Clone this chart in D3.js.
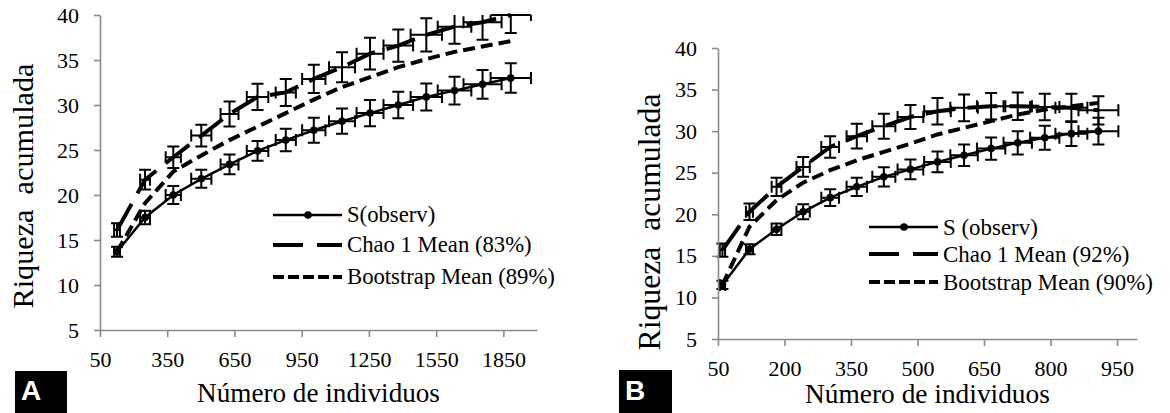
<!DOCTYPE html>
<html>
<head>
<meta charset="utf-8">
<script src="https://cdn.jsdelivr.net/npm/d3@7"></script>
</head>
<body style="margin:0">
<div id="fig"></div>
<script>
// ---- data ----
const yTicks = [5, 10, 15, 20, 25, 30, 35, 40];

// panel A
const xTicksA = [50, 350, 650, 950, 1250, 1550, 1850];
const xA = [126, 251, 377, 502, 628, 753, 879, 1004, 1130, 1255, 1381, 1506, 1632, 1757, 1883];
const xErrA = [13, 22, 34, 45, 40, 48, 45, 52, 58, 60, 66, 70, 75, 85, 90];
const sObsA = [13.7, 17.5, 20.0, 21.8, 23.4, 24.9, 26.1, 27.2, 28.2, 29.1, 30.0, 30.9, 31.6, 32.3, 33.0];
const sErrA = [0.55, 0.75, 1.0, 1.0, 1.1, 1.1, 1.25, 1.39, 1.4, 1.45, 1.48, 1.5, 1.55, 1.6, 1.63];
const chaoA = [16.1, 21.7, 24.2, 26.6, 29.0, 30.9, 31.4, 32.9, 34.2, 35.7, 36.6, 37.8, 38.7, 39.2, 40.0];
const chaoErrA = [0.75, 1.1, 1.2, 1.2, 1.4, 1.45, 1.5, 1.57, 1.67, 1.76, 1.8, 1.85, 1.9, 1.95, 2.0];
const bootA = [13.7, 19.1, 22.6, 24.4, 26.1, 27.6, 29.1, 30.6, 32.0, 33.1, 34.2, 35.1, 35.9, 36.5, 37.1];
const legendA = ["S(observ)", "Chao 1 Mean (83%)", "Bootstrap Mean (89%)"];

// panel B
const xTicksB = [50, 200, 350, 500, 650, 800, 950];
const xB = [60, 121, 182, 242, 303, 363, 424, 484, 545, 605, 666, 726, 787, 847, 908];
const xErrB = [6, 8, 11, 15, 20, 23, 26, 29, 30, 31, 32, 32, 33, 36, 45];
const sObsB = [11.5, 15.8, 18.2, 20.3, 22.0, 23.3, 24.5, 25.4, 26.3, 27.1, 27.9, 28.6, 29.2, 29.7, 30.0];
const sErrB = [0.5, 0.6, 0.7, 0.9, 1.0, 1.1, 1.15, 1.2, 1.25, 1.3, 1.35, 1.4, 1.45, 1.5, 1.6];
const chaoB = [15.7, 20.3, 23.3, 25.7, 28.1, 29.4, 30.6, 31.7, 32.4, 32.8, 33.0, 33.0, 32.9, 32.8, 32.5];
const chaoErrB = [0.8, 1.0, 1.1, 1.2, 1.3, 1.5, 1.5, 1.45, 1.6, 1.6, 1.6, 1.65, 1.6, 1.7, 1.7];
const bootB = [11.5, 18.5, 21.7, 23.8, 25.3, 26.5, 27.5, 28.5, 29.6, 30.4, 31.2, 32.0, 32.6, 33.0, 33.4];
const legendB = ["S (observ)", "Chao 1 Mean (92%)", "Bootstrap Mean (90%)"];

const W = 1170, H = 413;
const SERIF = '"Times New Roman"';
const SANS = '"Liberation Sans"';

const svg = d3.select("#fig")
  .append("svg")
  .attr("width", W)
  .attr("height", H);

svg.append("rect").attr("width", W).attr("height", H).attr("fill", "#fff");

// scale a text's font size so it spans the width it has in the picture
function fitWidth(sel, size, target) {
  sel.style("font-size", size + "px");
  const w = sel.node().getComputedTextLength();
  if (w > 0) sel.style("font-size", (size * target / w).toFixed(2) + "px");
  return sel;
}

function drawPanel(p) {
  const x = d3.scaleLinear().domain(p.xDomain).range([p.left, p.right]);
  const y = d3.scaleLinear().domain([5, 40]).range([p.bottom, p.top]);

  const line = d3.line().x((d) => x(d[0])).y((d) => y(d[1]));
  const pts = (ys) => p.xs.map((v, i) => [v, ys[i]]);
  const plot = svg.append("g");

  // error bars (vertical + horizontal) for S and Chao, cut at the plot top
  const cap = 6;
  function errorBars(ys, errs) {
    const g = plot.append("g").attr("stroke", "#000").attr("stroke-width", 2).attr("fill", "none");
    p.xs.forEach((xv, i) => {
      const cx = x(xv), cy = y(ys[i]);
      const y0 = y(ys[i] - errs[i]);
      const hi = ys[i] + errs[i];
      const y1 = y(Math.min(hi, 40));
      const x0 = x(xv - p.xErr[i]), x1 = x(xv + p.xErr[i]);
      let d = `M${cx},${y0}V${y1}M${cx - cap},${y0}H${cx + cap}`;
      if (hi <= 40) d += `M${cx - cap},${y1}H${cx + cap}`;
      const capTop = Math.max(cy - cap, p.top);
      d += `M${x0},${cy}H${x1}M${x0},${capTop}V${cy + cap}M${x1},${capTop}V${cy + cap}`;
      g.append("path").attr("d", d);
    });
  }
  errorBars(p.chao, p.chaoErr);
  errorBars(p.sObs, p.sErr);

  // Bootstrap
  plot.append("path").datum(pts(p.boot))
    .attr("d", line).attr("fill", "none")
    .attr("stroke", "#000").attr("stroke-width", 4)
    .attr("stroke-dasharray", "12,6");

  // Chao 1
  plot.append("path").datum(pts(p.chao))
    .attr("d", line).attr("fill", "none")
    .attr("stroke", "#000").attr("stroke-width", 4)
    .attr("stroke-dasharray", "30,12");

  // S(observ)
  plot.append("path").datum(pts(p.sObs))
    .attr("d", line).attr("fill", "none")
    .attr("stroke", "#000").attr("stroke-width", 2.5);
  plot.selectAll(null).data(pts(p.sObs)).enter()
    .append("circle")
    .attr("cx", (d) => x(d[0])).attr("cy", (d) => y(d[1]))
    .attr("r", 3.8).attr("fill", "#000");

  // axes
  const xAxis = svg.append("g")
    .attr("transform", `translate(0,${p.bottom})`)
    .call(d3.axisBottom(x).tickValues(p.xTicks).tickFormat(d3.format("d"))
      .tickSize(7).tickSizeOuter(0).tickPadding(10));
  const yAxis = svg.append("g")
    .attr("transform", `translate(${p.left},0)`)
    .call(d3.axisLeft(y).tickValues(yTicks).tickSize(6).tickSizeOuter(0).tickPadding(15));
  [xAxis, yAxis].forEach((g) => {
    g.attr("font-family", null).attr("font-size", null);
    g.select(".domain").attr("stroke", "#8a8a8a").attr("stroke-width", 1.6);
    g.selectAll(".tick line").attr("stroke", "#8a8a8a").attr("stroke-width", 1.6);
    g.selectAll(".tick text")
      .attr("fill", "#000")
      .style("font-family", SERIF)
      .style("font-size", "22px");
  });
  xAxis.selectAll(".tick text").attr("dy", "0.9em");

  // legend
  const lg = svg.append("g");
  const styles = [
    { w: 2.5, dash: null, dot: true },
    { w: 4, dash: "30,14", dot: false },
    { w: 4, dash: "11,4", dot: false }
  ];
  let legSize = 22;
  p.legend.forEach((label, i) => {
    const ly = p.legY[i];
    const s = styles[i];
    lg.append("line")
      .attr("x1", p.legX).attr("x2", p.legX + 69)
      .attr("y1", ly).attr("y2", ly)
      .attr("stroke", "#000").attr("stroke-width", s.w)
      .attr("stroke-dasharray", s.dash);
    if (s.dot) {
      lg.append("circle").attr("cx", p.legX + 35).attr("cy", ly).attr("r", 3.8).attr("fill", "#000");
    }
    const t = lg.append("text")
      .attr("x", p.legX + 74).attr("y", ly)
      .attr("dy", "0.33em")
      .attr("fill", "#000")
      .style("font-family", SERIF)
      .text(label);
    if (i === 2) {
      fitWidth(t, 22, p.legW);
      legSize = parseFloat(t.style("font-size"));
    }
  });
  lg.selectAll("text").style("font-size", legSize + "px");

  // axis titles
  const xt = svg.append("text")
    .attr("x", (p.left + p.right) / 2).attr("y", p.xTitleY)
    .attr("text-anchor", "middle")
    .attr("fill", "#000")
    .style("font-family", SERIF)
    .text("Número de individuos");
  fitWidth(xt, 26, p.xTitleW);
  const yt = svg.append("text")
    .attr("transform", `translate(${p.yTitleX},${p.yTitleCY}) rotate(-90)`)
    .attr("text-anchor", "middle")
    .attr("fill", "#000")
    .style("font-family", SERIF)
    .style("white-space", "pre")
    .text("Riqueza  acumulada");
  fitWidth(yt, 28, p.yTitleW);

  // panel letter
  svg.append("rect")
    .attr("x", p.box[0]).attr("y", p.box[1])
    .attr("width", p.box[2]).attr("height", H - p.box[1])
    .attr("fill", "#000");
  svg.append("text")
    .attr("x", p.box[0] + 6).attr("y", 400)
    .attr("fill", "#fff")
    .style("font-family", SANS)
    .style("font-weight", "bold")
    .style("font-size", "28px")
    .text(p.name);
}

drawPanel({
  name: "A",
  xDomain: [50, 2000], left: 100, right: 537, top: 15, bottom: 330,
  xTicks: xTicksA, xs: xA, xErr: xErrA,
  sObs: sObsA, sErr: sErrA, chao: chaoA, chaoErr: chaoErrA, boot: bootA,
  legend: legendA, legX: 273, legY: [215, 245, 277], legW: 208,
  xTitleY: 402, xTitleW: 243, yTitleX: 33, yTitleCY: 186, yTitleW: 245,
  box: [15, 371, 52]
});

drawPanel({
  name: "B",
  xDomain: [50, 995], left: 718, right: 1137, top: 48, bottom: 339,
  xTicks: xTicksB, xs: xB, xErr: xErrB,
  sObs: sObsB, sErr: sErrB, chao: chaoB, chaoErr: chaoErrB, boot: bootB,
  legend: legendB, legX: 869, legY: [227, 254, 282], legW: 210,
  xTitleY: 403, xTitleW: 245, yTitleX: 660, yTitleCY: 222, yTitleW: 257,
  box: [619, 370, 53]
});
</script>
</body>
</html>
